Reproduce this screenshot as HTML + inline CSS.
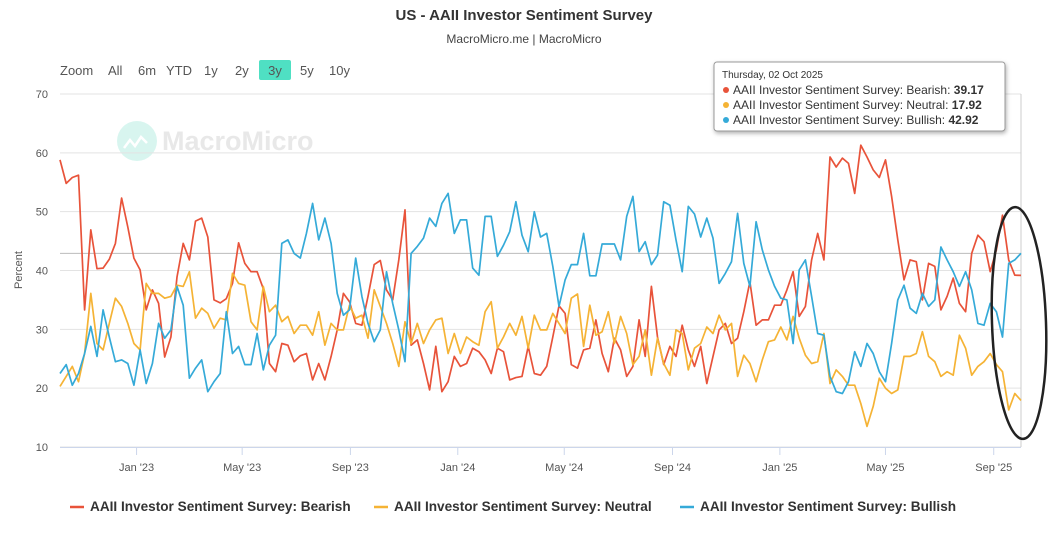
<!DOCTYPE html>
<html><head><meta charset="utf-8">
<style>
body{margin:0;background:#fff;font-family:"Liberation Sans",sans-serif;}
#wrap{position:relative;width:1048px;height:558px;overflow:hidden;}
</style></head>
<body>
<div id="wrap">
<svg id="chart" width="1048" height="558" xmlns="http://www.w3.org/2000/svg">
  <text x="524" y="20" text-anchor="middle" font-size="15" font-weight="bold" fill="#333">US - AAII Investor Sentiment Survey</text>
  <text x="524" y="43" text-anchor="middle" font-size="12" fill="#444">MacroMicro.me | MacroMicro</text>
  <g font-size="13" fill="#555">
    <text x="60" y="75">Zoom</text>
    <text x="108" y="75">All</text>
    <text x="138" y="75">6m</text>
    <text x="166" y="75">YTD</text>
    <text x="204" y="75">1y</text>
    <text x="235" y="75">2y</text>
    <rect x="259" y="60" width="32" height="20" rx="2" fill="#4fe0c3"/>
    <text x="275" y="75" text-anchor="middle">3y</text>
    <text x="300" y="75">5y</text>
    <text x="329" y="75">10y</text>
  </g>
  <g opacity="0.9">
    <circle cx="137" cy="141" r="20" fill="#d4f5ee"/>
    <path d="M124 148 l6 -8 l5 6 l6 -9 l6 6" stroke="#fff" stroke-width="2.5" fill="none"/>
    <text x="162" y="150" font-size="27" font-weight="bold" fill="#e6e6e6">MacroMicro</text>
  </g>
  <g id="grid"></g>
  <g id="xaxis"></g>
  <g id="series"></g>
  <text transform="translate(22,270) rotate(-90)" text-anchor="middle" font-size="11" fill="#555">Percent</text>
  <g id="legend" font-size="13.6" font-weight="bold" fill="#333">
    <line x1="70" y1="507" x2="84" y2="507" stroke="#e8533a" stroke-width="2.5"/>
    <text x="90" y="511">AAII Investor Sentiment Survey: Bearish</text>
    <line x1="374" y1="507" x2="388" y2="507" stroke="#f5b335" stroke-width="2.5"/>
    <text x="394" y="511">AAII Investor Sentiment Survey: Neutral</text>
    <line x1="680" y1="507" x2="694" y2="507" stroke="#35aad8" stroke-width="2.5"/>
    <text x="700" y="511">AAII Investor Sentiment Survey: Bullish</text>
  </g>
  <g>
    <rect x="714" y="62" width="291" height="69" rx="3" fill="#fff" stroke="#999" stroke-width="1" style="filter:drop-shadow(1px 2px 2px rgba(0,0,0,0.3))"/>
    <text x="722" y="78" font-size="10" fill="#333">Thursday, 02 Oct 2025</text>
    <circle cx="726" cy="90" r="3" fill="#e8533a"/>
    <text x="733" y="94" font-size="12" fill="#333">AAII Investor Sentiment Survey: Bearish: <tspan font-weight="bold">39.17</tspan></text>
    <circle cx="726" cy="105" r="3" fill="#f5b335"/>
    <text x="733" y="109" font-size="12" fill="#333">AAII Investor Sentiment Survey: Neutral: <tspan font-weight="bold">17.92</tspan></text>
    <circle cx="726" cy="120" r="3" fill="#35aad8"/>
    <text x="733" y="124" font-size="12" fill="#333">AAII Investor Sentiment Survey: Bullish: <tspan font-weight="bold">42.92</tspan></text>
  </g>
  <ellipse cx="1019" cy="323" rx="27" ry="116" transform="rotate(-2 1019 323)" fill="none" stroke="#222" stroke-width="2.5"/>
</svg>
</div>
<script>
const startDate = "2022-10-06";
const yTicks = [10,20,30,40,50,60,70];
const xTickLabels = ["Jan '23","May '23","Sep '23","Jan '24","May '24","Sep '24","Jan '25","May '25","Sep '25"];
const xTickDates = ["2023-01-01","2023-05-01","2023-09-01","2024-01-01","2024-05-01","2024-09-01","2025-01-01","2025-05-01","2025-09-01"];
const bearish = [58.8,54.8,55.8,56.2,33.3,46.9,40.3,40.4,41.9,44.6,52.3,47.4,42.1,40.1,33.3,36.7,34.4,25.3,28.7,38.9,44.6,41.8,48.4,48.9,45.7,35.0,34.5,35.2,37.8,44.7,41.2,39.8,39.8,36.9,24.2,22.8,27.6,27.3,24.5,25.5,
25.9,21.4,24.2,21.4,25.4,29.9,36.1,34.7,31.0,30.7,35.6,41.0,41.7,36.7,35.0,41.8,50.3,27.3,28.2,24.2,19.7,27.1,19.4,21.1,25.4,23.7,24.2,26.8,26.2,24.8,22.5,26.8,26.2,21.4,21.8,22.0,27.1,22.5,22.2,
23.7,28.7,34.0,32.7,24.0,23.4,26.5,26.8,31.6,25.9,22.8,28.5,26.5,22.0,23.7,31.6,25.4,37.3,28.7,24.0,27.1,25.4,30.7,26.5,23.7,27.1,20.8,25.4,29.9,31.0,27.6,28.5,33.0,38.1,30.7,31.6,31.6,34.1,34.1,
36.7,39.8,32.2,33.9,41.8,46.3,41.8,59.3,57.6,59.1,58.2,53.1,61.3,59.3,57.1,55.8,58.8,52.6,45.2,38.4,41.8,41.5,35.0,41.2,40.7,33.3,35.6,38.7,34.4,33.0,42.9,46.0,44.9,39.8,43.5,49.4,41.8,39.2,39.17];
const neutral = [20.3,22.0,23.7,21.1,25.9,36.1,27.6,26.5,31.0,35.3,33.9,31.0,27.6,26.5,37.8,36.1,36.1,35.3,35.6,37.5,37.3,39.8,31.9,33.6,32.7,30.2,31.9,31.6,39.5,37.8,37.5,31.3,29.9,37.3,33.0,34.1,31.3,32.2,29.3,30.7,
30.7,29.0,33.0,27.3,31.0,29.9,29.9,34.1,31.9,32.4,28.5,36.7,33.9,31.0,27.6,23.7,31.3,27.6,31.0,27.6,29.9,31.6,31.9,25.9,29.3,25.9,28.7,27.9,27.3,33.0,34.7,26.8,28.7,31.0,29.0,32.2,26.8,32.4,29.9,
29.9,32.7,31.0,29.3,35.3,36.0,27.1,34.1,29.0,29.6,33.0,27.6,32.2,29.3,24.0,25.4,29.9,22.2,28.5,24.2,22.2,29.9,29.3,23.1,26.8,27.6,30.4,29.3,32.4,29.9,31.0,22.0,25.6,24.2,21.1,24.8,27.9,28.2,30.4,
28.2,32.2,28.5,25.6,24.2,24.5,29.3,20.8,23.1,22.0,20.5,20.5,17.4,13.5,16.9,21.7,20.0,19.1,19.7,25.4,25.4,25.9,29.6,25.4,24.5,22.0,22.8,22.2,29.0,26.8,22.2,23.7,24.5,25.9,24.0,22.8,16.3,19.1,17.92];
const bullish = [22.5,24.0,20.5,22.5,25.9,30.5,25.4,33.3,28.7,24.5,24.8,24.2,20.5,26.5,20.8,24.2,31.0,28.5,29.9,37.3,34.1,21.7,23.4,24.8,19.4,21.1,22.5,33.0,25.9,27.1,24.0,24.0,29.3,23.1,27.3,29.0,44.6,45.2,42.9,42.1,
46.3,51.4,45.2,48.9,44.6,36.1,32.4,33.3,42.1,35.6,31.0,27.9,29.9,39.8,34.4,29.9,24.5,42.9,44.1,45.5,48.9,47.5,51.4,53.1,46.3,48.6,48.6,40.4,39.2,49.2,49.2,42.4,44.3,46.6,51.7,46.0,43.2,50.0,45.7,
46.3,40.7,33.9,38.4,41.0,41.0,46.3,39.1,39.1,44.5,44.5,44.5,41.8,49.2,52.6,43.2,44.9,41.0,42.6,51.7,51.1,45.2,39.8,50.9,49.6,45.7,48.9,45.5,37.8,39.5,41.5,49.7,41.2,37.3,48.3,43.5,40.1,37.3,35.3,
35.0,27.6,40.1,41.8,35.6,29.3,29.0,22.0,19.4,19.1,21.1,26.2,23.7,27.6,25.9,22.8,21.1,27.6,35.0,37.5,33.6,32.7,36.1,33.9,35.0,44.0,41.8,39.8,37.3,39.8,36.7,31.0,30.7,34.4,33.0,28.7,41.2,41.8,42.92];

const NS="http://www.w3.org/2000/svg";
const L=60,R=1021,T=94,B=447;
const n=bearish.length;
const t0=new Date(startDate+"T00:00:00Z").getTime();
const week=7*86400000;
const tEnd=t0+(n-1)*week;
function xs(t){return L+(t-t0)/(tEnd-t0)*(R-L);}
function xi(i){return xs(t0+i*week);}
function ys(v){return B-(v-10)/60*(B-T);}
function mk(tag,attrs,parent){const e=document.createElementNS(NS,tag);for(const k in attrs)e.setAttribute(k,attrs[k]);parent.appendChild(e);return e;}

const grid=document.getElementById('grid');
yTicks.forEach(v=>{
  const ln=mk('line',{x1:L,x2:R,y1:ys(v),y2:ys(v),stroke:'#e3e3e3','stroke-width':1},grid);
  
  
  const tx=mk('text',{x:48,y:ys(v)+4,'text-anchor':'end','font-size':11,fill:'#555'},grid);
  tx.textContent=v;
  
  
});
const ch=mk('line',{x1:L,x2:R,y1:ys(bullish[n-1]),y2:ys(bullish[n-1]),stroke:'#bbb','stroke-width':1},grid);


const cv=mk('line',{x1:R,x2:R,y1:T,y2:B,stroke:'#ccc','stroke-width':1},grid);



const xa=document.getElementById('xaxis');
const axl=mk('line',{x1:L,x2:R,y1:B+0.5,y2:B+0.5,stroke:'#ccd6eb','stroke-width':1},xa);


xTickDates.forEach((d,k)=>{
  const x=xs(new Date(d+"T00:00:00Z").getTime());
  const tk=mk('line',{x1:x,x2:x,y1:B,y2:B+8,stroke:'#ccd6eb','stroke-width':1},xa);
  
  
  const tx=mk('text',{x:x,y:B+24,'text-anchor':'middle','font-size':11,fill:'#555'},xa);
  tx.textContent=xTickLabels[k];
  
  
});

const sg=document.getElementById('series');
[[bearish,'#e8533a','bearish-line'],[neutral,'#f5b335','neutral-line'],[bullish,'#35aad8','bullish-line']].forEach(s=>{
  const d=s[0].map((v,i)=>(i?'L':'M')+xi(i).toFixed(1)+' '+ys(v).toFixed(1)).join(' ');
  const p=mk('path',{d:d,fill:'none',stroke:s[1],'stroke-width':1.7,'stroke-linejoin':'round'},sg);
  
  
});
</script>
</body></html>
